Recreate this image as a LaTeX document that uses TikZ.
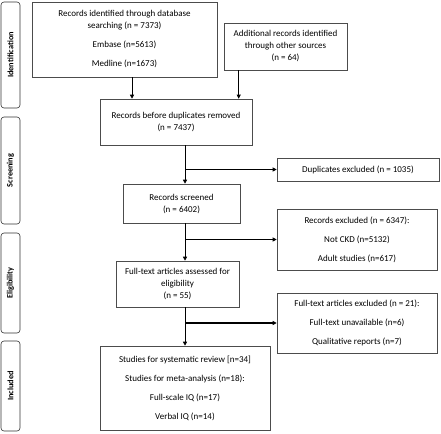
\documentclass[tikz,border=0pt]{standalone}
\usepackage{fontspec}
\setmainfont{Carlito}
\usetikzlibrary{arrows.meta}
\usetikzlibrary{positioning}
\tikzset{
  box/.style={draw=black!70, line width=0.6pt, align=center, inner sep=0pt, font=\fontsize{9}{12}\selectfont},
  sidebox/.style={draw=black!80, line width=0.6pt, rounded corners=3pt, minimum height=19pt, inner sep=0pt, rotate=90, font=\fontsize{8.3}{10}\selectfont\bfseries},
  arr/.style={line width=0.7pt, -{Triangle[length=4pt,width=4pt]}},
  branch/.style={line width=1.3pt, -{Triangle[length=4pt,width=4pt]}}
}
\begin{document}
\begin{tikzpicture}[x=1pt,y=-1pt]
  \useasboundingbox (0,0) rectangle (441,433);
  % stages on the left
  \node[sidebox, minimum width=106pt] (ident) at (10.5,55) {Identification};
  \node[sidebox, minimum width=107pt] (screen) at (10.5,170.5) {Screening};
  \node[sidebox, minimum width=100pt] (elig) at (10.5,283) {Eligibility};
  \node[sidebox, minimum width=90pt] (incl) at (10.5,386) {Included};

  % main column
  \node[box, minimum width=185pt, minimum height=75pt] (recid) at (124.5,39.5) {Records identified through database\\searching (n = 7373)\\[7pt]Embase (n=5613)\\[7pt]Medline (n=1673)};
  \node[box, minimum width=123pt, minimum height=47pt] (other) at (285.5,46.5) {Additional records identified\\through other sources\\(n = 64)};
  \node[box, minimum width=152pt, minimum height=46pt] (before) at (176,122) {Records before duplicates removed\\(n = 7437)};
  \node[box, minimum width=117pt, minimum height=39pt] (screened) at (181.5,203.5) {Records screened\\(n = 6402)};
  \node[box, minimum width=123pt, minimum height=46pt] (fulltext) at (177.5,284) {Full-text articles assessed for\\eligibility\\(n = 55)};
  \node[box, minimum width=170pt, minimum height=84pt] (studies) at (185,388) {Studies for systematic review [n=34]\\[7pt]Studies for meta-analysis (n=18):\\[7pt]Full-scale IQ (n=17)\\[7pt]Verbal IQ (n=14)};

  % exclusions
  \node[box, minimum width=162pt, minimum height=23pt] (dupl) at (358,169.5) {Duplicates excluded (n = 1035)};
  \node[box, minimum width=160pt, minimum height=61pt] (recexcl) at (357,239.5) {Records excluded (n = 6347):\\[7pt]Not CKD (n=5132)\\[7pt]Adult studies (n=617)};
  \node[box, minimum width=160pt, minimum height=60pt] (ftexcl) at (357,323) {Full-text articles excluded (n = 21):\\[7pt]Full-text unavailable (n=6)\\[7pt]Qualitative reports (n=7)};

  % connectors
  \coordinate (a1) at ([xshift=7.5pt]recid.south);
  \coordinate (a2) at ([xshift=15pt]other.south west);
  \coordinate (trunk) at (185,0);
  \draw[arr] (a1) -- (a1 |- before.north);
  \draw[arr] (a2) -- (a2 |- before.north);
  \draw[arr] (trunk |- before.south) -- (trunk |- screened.north);
  \draw[arr] (trunk |- screened.south) -- (trunk |- fulltext.north);
  \draw[arr] (trunk |- fulltext.south) -- (trunk |- studies.north);
  \draw[branch] (trunk |- dupl.west) -- (dupl.west);
  \draw[branch] (trunk |- recexcl.west) -- (recexcl.west);
  \draw[branch] (trunk |- ftexcl.west) -- (ftexcl.west);
\end{tikzpicture}
\end{document}
